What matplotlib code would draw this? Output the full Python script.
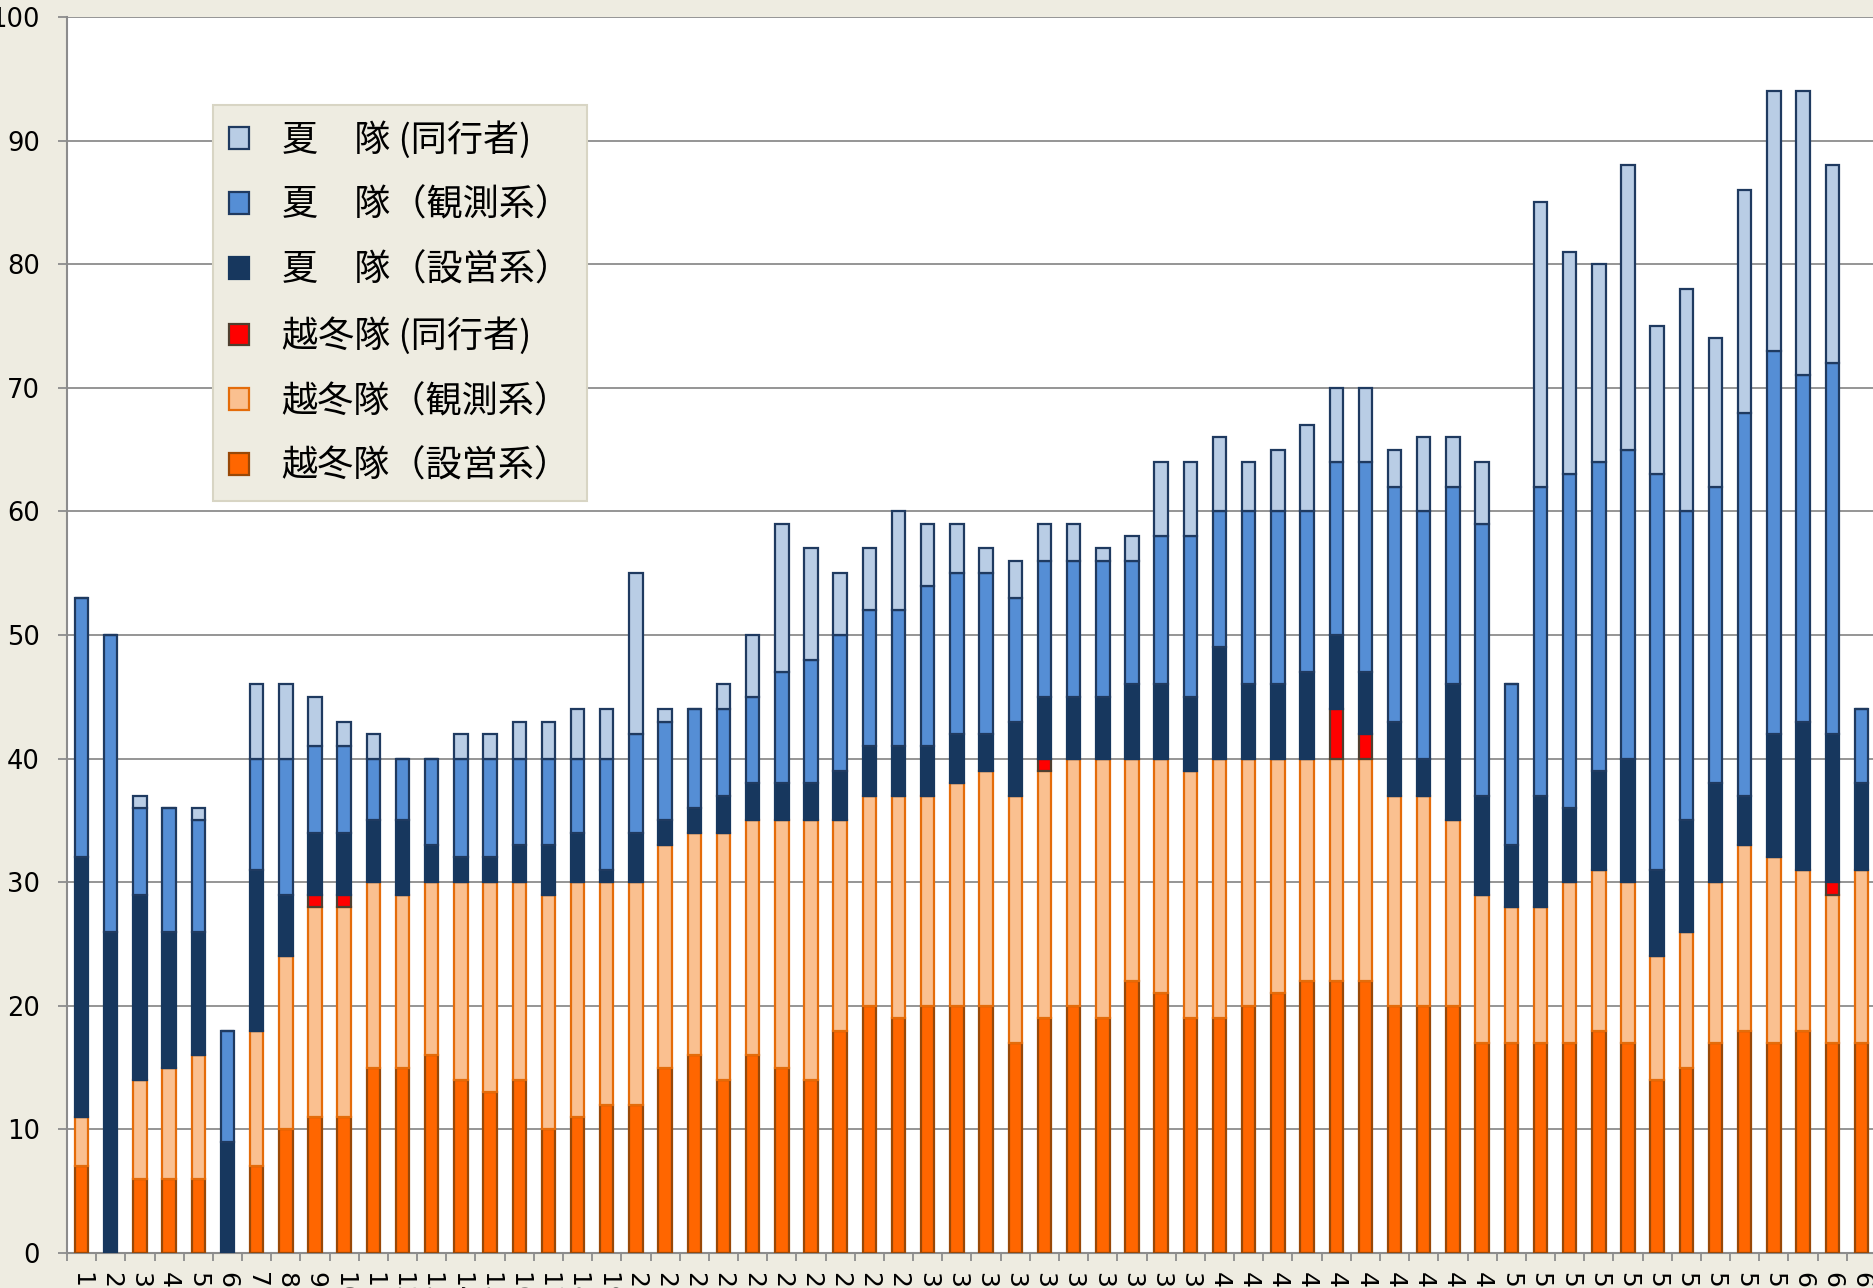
import matplotlib.pyplot as plt
import numpy as np

# 次数 1..62
jisu = [str(i) for i in range(1, 63)]

# 越冬隊
wo_setsuei = [7, 0, 6, 6, 6, 0, 7, 10, 11, 11, 15, 15, 16, 14, 13, 14, 10, 11, 12, 12,
              15, 16, 14, 16, 15, 14, 18, 20, 19, 20, 20, 20, 17, 19, 20, 19, 22, 21, 19, 19,
              20, 21, 22, 22, 22, 20, 20, 20, 17, 17, 17, 17, 18, 17, 14, 15, 17, 18, 17, 18,
              17, 17]
wo_kansoku = [4, 0, 8, 9, 10, 0, 11, 14, 17, 17, 15, 14, 14, 16, 17, 16, 19, 19, 18, 18,
              18, 18, 20, 19, 20, 21, 17, 17, 18, 17, 18, 19, 20, 20, 20, 21, 18, 19, 20, 21,
              20, 19, 18, 18, 18, 17, 17, 15, 12, 11, 11, 13, 13, 13, 10, 11, 13, 15, 15, 13,
              12, 14]
wo_doko = [0, 0, 0, 0, 0, 0, 0, 0, 1, 1, 0, 0, 0, 0, 0, 0, 0, 0, 0, 0,
           0, 0, 0, 0, 0, 0, 0, 0, 0, 0, 0, 0, 0, 1, 0, 0, 0, 0, 0, 0,
           0, 0, 0, 4, 2, 0, 0, 0, 0, 0, 0, 0, 0, 0, 0, 0, 0, 0, 0, 0,
           1, 0]
# 夏隊
su_setsuei = [21, 26, 15, 11, 10, 9, 13, 5, 5, 5, 5, 6, 3, 2, 2, 3, 4, 4, 1, 4,
              2, 2, 3, 3, 3, 3, 4, 4, 4, 4, 4, 3, 6, 5, 5, 5, 6, 6, 6, 9,
              6, 6, 7, 6, 5, 6, 3, 11, 8, 5, 9, 6, 8, 10, 7, 9, 8, 4, 10, 12,
              12, 7]
su_kansoku = [21, 24, 7, 10, 9, 9, 9, 11, 7, 7, 5, 5, 7, 8, 8, 7, 7, 6, 9, 8,
              8, 8, 7, 7, 9, 10, 11, 11, 11, 13, 13, 13, 10, 11, 11, 11, 10, 12, 13, 11,
              14, 14, 13, 14, 17, 19, 20, 16, 22, 13, 25, 27, 25, 25, 32, 25, 24, 31, 31, 28,
              30, 6]
su_doko = [0, 0, 1, 0, 1, 0, 6, 6, 4, 2, 2, 0, 0, 2, 2, 3, 3, 4, 4, 13,
           1, 0, 2, 5, 12, 9, 5, 5, 8, 5, 4, 2, 3, 3, 3, 1, 2, 6, 6, 6,
           4, 5, 7, 6, 6, 3, 6, 4, 5, 0, 23, 18, 16, 23, 12, 18, 12, 18, 21, 23,
           16, 0]

series = [
    ('越冬隊（設営系）', wo_setsuei, '#FF6600', '#984807'),
    ('越冬隊（観測系）', wo_kansoku, '#FAC090', '#E46C0A'),
    ('越冬隊 (同行者)', wo_doko, '#FF0000', '#4F3F2F'),
    ('夏　隊（設営系）', su_setsuei, '#17375E', '#17375E'),
    ('夏　隊（観測系）', su_kansoku, '#558ED5', '#1F3A60'),
    ('夏　隊 (同行者)', su_doko, '#B9CDE5', '#1F3A60'),
]

bg = '#EEECE1'
fig = plt.figure(figsize=(18.74, 12.88), dpi=100, facecolor=bg)
W, H = 1874, 1288
ax = fig.add_axes([67 / W, (H - 1253) / H, 1809 / W, (1253 - 17) / H])
ax.set_facecolor('white')

x = np.arange(1, len(jisu) + 1)
bottom = np.zeros(len(jisu))
handles = []
for label, vals, fc, ec in series:
    vals = np.array(vals, dtype=float)
    b = ax.bar(x, vals, width=0.46, bottom=bottom, color=fc, edgecolor=ec,
               linewidth=1.6, label=label, zorder=3)
    handles.append(b)
    bottom += vals

ax.set_xlim(0.5, 62.5)
ax.set_ylim(0, 100)
ax.set_yticks(np.arange(0, 101, 10))
ax.grid(axis='y', color='#8C8C8C', linewidth=1.3, zorder=0)
ax.set_axisbelow(True)

ax.set_xticks(x)
ax.set_xticklabels(jisu, rotation=270, va='top', ha='center')
ax.set_xticks(np.arange(0.5, 63, 1), minor=True)
ax.tick_params(axis='x', which='major', length=0, pad=14, labelsize=18)
ax.tick_params(axis='x', which='minor', length=6, width=1.3, color='#8C8C8C')
ax.tick_params(axis='y', length=6.5, width=1.3, color='#8C8C8C', pad=13, labelsize=18.5)

for s in ['top', 'right']:
    ax.spines[s].set_visible(False)
for s in ['left', 'bottom']:
    ax.spines[s].set_color('#8C8C8C')
    ax.spines[s].set_linewidth(1.5)

leg = ax.legend(handles[::-1], [s[0] for s in series][::-1],
                loc='upper left', bbox_to_anchor=(213 / W, 1 - 105 / H),
                bbox_transform=fig.transFigure, borderaxespad=0,
                prop={'family': ['Noto Sans CJK JP', 'DejaVu Sans'], 'size': 26},
                handlelength=0.55, handleheight=0.55, handletextpad=0.9,
                labelspacing=0.8, borderpad=0.45, fancybox=False,
                facecolor=bg, edgecolor='#D8D5C4', framealpha=1)
leg.get_frame().set_linewidth(1.5)

fig.savefig('out.png', dpi=100, facecolor=bg)
